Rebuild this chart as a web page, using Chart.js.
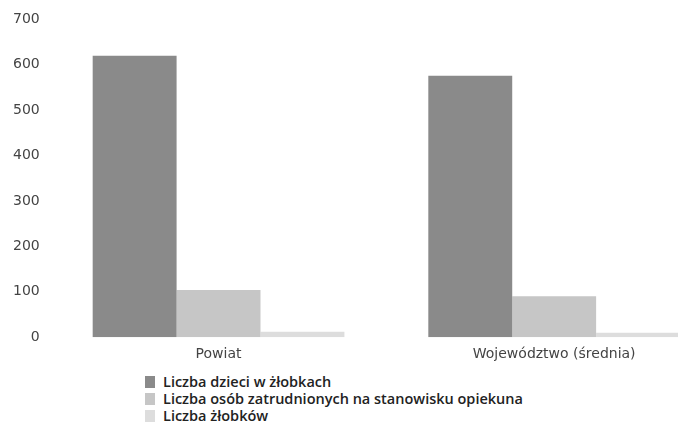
<!DOCTYPE html>
<html>
<head>
<meta charset="utf-8">
<script src="https://cdn.jsdelivr.net/npm/chart.js@4"></script>
<style>
  body { margin: 0; background: #fff; overflow: hidden; width: 678px; height: 428px; }
  #wrap { position: absolute; left: 0; top: 0; width: 730px; height: 364px; }
  #legenda { position: absolute; left: 145px; top: 373px; font-family: "Open Sans", sans-serif; font-size: 14.5px; font-weight: 600; color: #222; }
  #legenda div { height: 17px; line-height: 17px; display: flex; align-items: center; }
  #legenda span.kw { display: inline-block; width: 10px; height: 12px; margin-right: 8px; }
</style>
</head>
<body>
<div id="wrap"><canvas id="wykres"></canvas></div>
<div id="legenda"></div>
<script>
const kategorie = ['Powiat', 'Województwo (średnia)'];
const dzieci = [620, 576];
const opiekunowie = [104, 90];
const zlobki = [12, 10];
const etykietyOsi = [0, 100, 200, 300, 400, 500, 600, 700];

const kolory = ['#8a8a8a', '#c6c6c6', '#dddddd'];

const ctx = document.getElementById('wykres');

const wykres = new Chart(ctx, {
  type: 'bar',
  data: {
    labels: kategorie,
    datasets: [
      { label: 'Liczba dzieci w żłobkach', data: dzieci, backgroundColor: kolory[0] },
      { label: 'Liczba osób zatrudnionych na stanowisku opiekuna', data: opiekunowie, backgroundColor: kolory[1] },
      { label: 'Liczba żłobków', data: zlobki, backgroundColor: kolory[2] }
    ]
  },
  options: {
    responsive: true,
    maintainAspectRatio: false,
    animation: false,
    layout: { padding: { left: 2, top: 19, right: 8, bottom: 0 } },
    datasets: { bar: { categoryPercentage: 0.75, barPercentage: 1 } },
    plugins: {
      legend: { display: false },
      tooltip: { enabled: false }
    },
    scales: {
      x: {
        grid: { display: false },
        border: { display: false },
        ticks: { color: '#444', font: { family: 'DejaVu Sans', size: 14 }, padding: 1 }
      },
      y: {
        min: 0,
        max: 700,
        afterBuildTicks: (skala) => { skala.ticks = etykietyOsi.map(v => ({ value: v })); },
        grid: { display: false, drawTicks: false },
        border: { display: false },
        ticks: { color: '#444', font: { family: 'DejaVu Sans', size: 14 }, padding: 11 }
      }
    }
  }
});

// legenda w kolumnie, jak w oryginale
const legenda = document.getElementById('legenda');
wykres.data.datasets.forEach((ds) => {
  const wiersz = document.createElement('div');
  const kw = document.createElement('span');
  kw.className = 'kw';
  kw.style.background = ds.backgroundColor;
  wiersz.appendChild(kw);
  wiersz.appendChild(document.createTextNode(ds.label));
  legenda.appendChild(wiersz);
});
</script>
</body>
</html>
